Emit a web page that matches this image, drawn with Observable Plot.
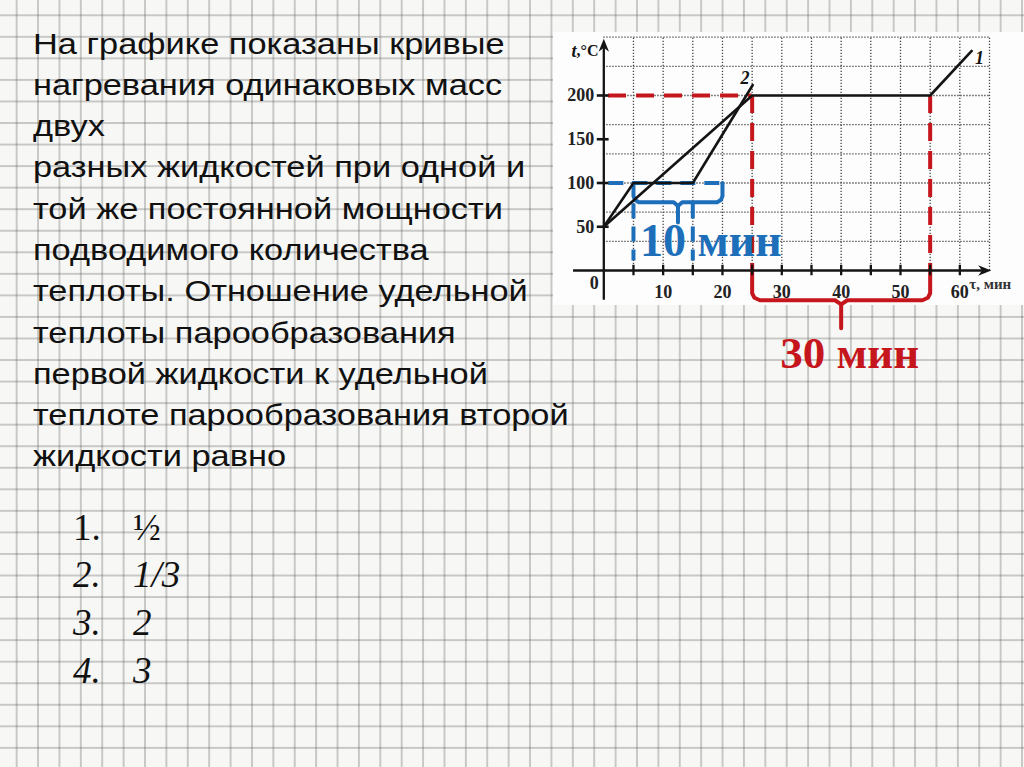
<!DOCTYPE html>
<html>
<head>
<meta charset="utf-8">
<script src="https://cdn.jsdelivr.net/npm/d3@7"></script>
<script src="https://cdn.jsdelivr.net/npm/@observablehq/plot@0.6"></script>
<style>
  html, body { margin: 0; padding: 0; }
  body {
    width: 1024px; height: 767px; overflow: hidden; position: relative;
    background-color: #f7f7f5;
    background-image:
      linear-gradient(to right, rgba(90,90,90,0.3) 0, rgba(90,90,90,0.3) 1.8px, transparent 1.8px),
      linear-gradient(to bottom, rgba(90,90,90,0.3) 0, rgba(90,90,90,0.3) 1.8px, transparent 1.8px);
    background-size: 21.4px 21.55px;
    background-position: 15.7px 14.3px;
  }
  #question {
    position: absolute; left: 33px; top: 22.5px;
    font-family: "Liberation Sans", Arial, sans-serif; font-size: 29.5px;
    line-height: 41.3px; color: #111; white-space: nowrap;
    transform: scaleX(1.165); transform-origin: 0 0;
  }
  #answers {
    position: absolute; left: 73px; top: 503.6px;
    font-family: "Liberation Serif", "Times New Roman", serif; font-size: 37px;
    line-height: 47.8px; color: #111;
  }
  #answers .row { position: relative; height: 47.8px; white-space: nowrap; }
  #answers .num { position: absolute; left: 0; }
  #answers .ans { position: absolute; left: 60px; }
  #panel { position: absolute; left: 553px; top: 32px; width: 471px; height: 273px; background: #fdfdfd; }
  #chart { position: absolute; left: 540px; top: 20px; }
  #chart svg { overflow: visible; background: transparent; }
</style>
</head>
<body>
<div id="panel"></div>
<div id="question"></div>
<div id="answers"></div>
<div id="chart"></div>
<script>
// ---- text ----
const questionLines = [
  "На графике показаны кривые",
  "нагревания одинаковых масс",
  "двух",
  "разных жидкостей при одной и",
  "той же постоянной мощности",
  "подводимого количества",
  "теплоты. Отношение удельной",
  "теплоты парообразования",
  "первой жидкости к удельной",
  "теплоте парообразования второй",
  "жидкости равно"
];
const answerNums = ["1.", "2.", "3.", "4."];
const answerTexts = ["½", "1/3", "2", "3"];
const answerItalic = [false, true, true, true];

// ---- chart data ----
const timeTickLabels = [10, 20, 30, 40, 50, 60];
const timeTickMarks = [5, 10, 15, 20, 25, 30, 35, 40, 45, 50, 55, 60];
const tempTickLabels = [50, 100, 150, 200];
const gridTimes = [5, 10, 15, 20, 25, 30, 35, 40, 45, 50, 55, 60, 65];
const gridTemps = [100/3, 200/3, 100, 400/3, 500/3, 200, 700/3, 800/3];

const curve1Time = [0, 25, 55, 62];
const curve1Temp = [50, 200, 200, 251];
const curve2Time = [0, 5, 15, 25.1];
const curve2Temp = [50, 100, 100, 212];

const boil1Temp = 200;          // liquid 1 boiling temperature
const boil1Span = [25, 55];     // 30 min
const boil2Temp = 100;          // liquid 2 boiling temperature
const boil2Span = [5, 15];      // 10 min
const blueBraceSpan = [5, 20];

const label1 = "30 мин";
const label2 = "10 мин";

// ---- build HTML text ----
document.getElementById("question").innerHTML = questionLines.map(s => `<div>${s}</div>`).join("");
document.getElementById("answers").innerHTML = answerNums.map((n, i) =>
  `<div class="row"><span class="num" style="font-style:${i === 0 ? "normal" : "italic"}">${n}</span>` +
  `<span class="ans" style="font-style:${answerItalic[i] ? "italic" : "normal"}">${answerTexts[i]}</span></div>`
).join("");

// ---- chart ----
const BLACK = "#141414", RED = "#c6161d", BLUE = "#1e6fba";
const curve1 = curve1Time.map((t, i) => ({t, v: curve1Temp[i]}));
const curve2 = curve2Time.map((t, i) => ({t, v: curve2Temp[i]}));

function brace(x1, x2, yTop, yBar, yTip, dx, dy, name) {
  const xm = (x1 + x2) / 2;
  const s = Math.sign(yBar - yTop);
  return [
    {t: x1, v: yTop, z: name + "a"}, {t: x1, v: yBar - s * dy, z: name + "a"},
    {t: x1 + dx * 0.3, v: yBar - s * dy * 0.35, z: name + "a"}, {t: x1 + dx, v: yBar, z: name + "a"},
    {t: xm - dx * 0.8, v: yBar, z: name + "a"}, {t: xm, v: yBar + s * dy * 0.6, z: name + "a"},
    {t: xm, v: yTip, z: name + "a"},
    {t: xm, v: yBar + s * dy * 0.6, z: name + "b"}, {t: xm + dx * 0.8, v: yBar, z: name + "b"},
    {t: x2 - dx, v: yBar, z: name + "b"}, {t: x2 - dx * 0.3, v: yBar - s * dy * 0.35, z: name + "b"},
    {t: x2, v: yBar - s * dy, z: name + "b"}, {t: x2, v: yTop, z: name + "b"}
  ];
}
const redBrace = brace(boil1Span[0], boil1Span[1], 0, -34, -66, 1.3, 8, "r");
const blueBrace = brace(blueBraceSpan[0], blueBraceSpan[1], boil2Temp, 78, 55, 0.9, 7, "b");

const arrowSymbol = {
  draw(ctx, size) {
    const s = Math.sqrt(size);
    ctx.moveTo(0, 0);
    ctx.lineTo(-2 * s, -0.8 * s);
    ctx.lineTo(-1.4 * s, 0);
    ctx.lineTo(-2 * s, 0.8 * s);
    ctx.closePath();
  }
};

const serif = "Liberation Serif";
const chart = Plot.plot({
  width: 484, height: 370, margin: 0,
  style: {background: "transparent", overflow: "visible"},
  x: {domain: [0, 65], range: [63.3, 449], axis: null},
  y: {domain: [0, 800/3], range: [250, 16.67], axis: null},
  marks: [
    // dotted grid
    Plot.ruleX(gridTimes, {x: d => d, y1: () => 0, y2: () => 800/3, stroke: "#444", strokeWidth: 1.3, strokeDasharray: "1.3,1.7"}),
    Plot.ruleY(gridTemps, {y: d => d, x1: () => 0, x2: () => 65, stroke: "#444", strokeWidth: 1.3, strokeDasharray: "1.3,1.7"}),
    // blue dashed helpers
    Plot.ruleY([boil2Temp], {y: d => d, x1: () => 0.85, x2: () => blueBraceSpan[1], stroke: BLUE, strokeWidth: 4, strokeDasharray: "15,9"}),
    Plot.ruleX(boil2Span, {x: d => d, y1: () => 76, y2: () => 11, stroke: BLUE, strokeWidth: 4, strokeDasharray: "15,8"}),
    Plot.line(blueBrace, {x: "t", y: "v", z: "z", stroke: BLUE, strokeWidth: 4, strokeLinejoin: "round", strokeLinecap: "round"}),
    // red dashed helpers
    Plot.ruleY([boil1Temp], {y: d => d, x1: () => 0.8, x2: () => boil1Span[0], stroke: RED, strokeWidth: 4, strokeDasharray: "18,10"}),
    Plot.ruleX(boil1Span, {x: d => d, y1: () => boil1Temp, y2: () => 0, stroke: RED, strokeWidth: 4, strokeDasharray: "18,10"}),
    Plot.line(redBrace, {x: "t", y: "v", z: "z", stroke: RED, strokeWidth: 4, strokeLinejoin: "round", strokeLinecap: "round"}),
    // axes
    Plot.ruleY([0], {y: d => d, x1: () => -5.1, x2: () => 64.5, stroke: BLACK, strokeWidth: 2.3}),
    Plot.ruleX([0], {x: d => d, y1: () => -34, y2: () => 258, stroke: BLACK, strokeWidth: 2.3}),
    Plot.dot([{t: 65.3, v: 0, a: 0}, {t: 0, v: 265, a: -90}], {x: "t", y: "v", rotate: "a", symbol: arrowSymbol, r: 3.7, fill: BLACK, stroke: "none"}),
    Plot.ruleY(tempTickLabels, {y: d => d, x1: () => -1.1, x2: () => 0.9, stroke: BLACK, strokeWidth: 2.6}),
    Plot.ruleX(timeTickMarks, {x: d => d, y1: () => -6, y2: () => 6, stroke: BLACK, strokeWidth: 2.3}),
    // curves
    Plot.line(curve1, {x: "t", y: "v", stroke: BLACK, strokeWidth: 2.6, strokeLinejoin: "round"}),
    Plot.line(curve2, {x: "t", y: "v", stroke: BLACK, strokeWidth: 2.6, strokeLinejoin: "round"}),
    // tick labels
    Plot.text(tempTickLabels, {x: () => -1.6, y: d => d, text: d => String(d), textAnchor: "end", fontFamily: serif, fontWeight: "bold", fontSize: 18, fill: "#222"}),
    Plot.text(timeTickLabels, {x: d => d, y: () => -24.5, text: d => String(d), fontFamily: serif, fontWeight: "bold", fontSize: 18, fill: "#222"}),
    Plot.text(["0"], {x: () => -1.6, y: () => -15, text: d => d, fontFamily: serif, fontWeight: "bold", fontSize: 18, fill: "#222"}),
    Plot.text(["τ, мин"], {x: () => 61.6, y: () => -16, text: d => d, textAnchor: "start", fontFamily: serif, fontWeight: "bold", fontSize: 15, fill: "#333"}),
    Plot.text(["t"], {x: () => -4.6, y: () => 251, text: d => d, textAnchor: "end", fontFamily: serif, fontStyle: "italic", fontWeight: "bold", fontSize: 18, fill: BLACK}),
    Plot.text([",°C"], {x: () => -4.6, y: () => 251, text: d => d, textAnchor: "start", fontFamily: serif, fontWeight: "bold", fontSize: 16, fill: BLACK}),
    Plot.text(["1"], {x: () => 63.3, y: () => 243, text: d => d, fontFamily: serif, fontStyle: "italic", fontWeight: "bold", fontSize: 18, fill: BLACK}),
    Plot.text(["2"], {x: () => 23.8, y: () => 220, text: d => d, fontFamily: serif, fontStyle: "italic", fontWeight: "bold", fontSize: 18, fill: BLACK}),
    // annotations
    Plot.text([label2], {x: () => 6.1, y: () => 17.1, text: d => d, textAnchor: "start", lineAnchor: "bottom", fontFamily: "Liberation Serif", fontWeight: "bold", fontSize: 46, fill: BLUE}),
    Plot.text([label1], {x: () => 29.75, y: () => -112, text: d => d, textAnchor: "start", lineAnchor: "bottom", fontFamily: "Liberation Serif", fontWeight: "bold", fontSize: 45, fill: RED})
  ]
});
document.getElementById("chart").appendChild(chart);
</script>
</body>
</html>
